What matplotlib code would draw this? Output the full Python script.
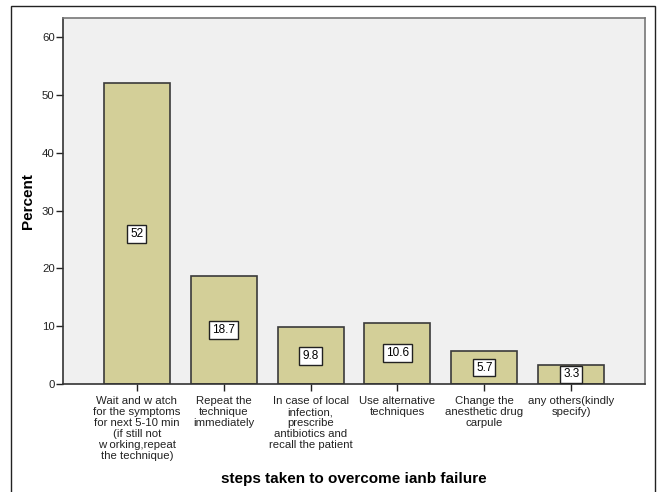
import matplotlib.pyplot as plt
from matplotlib.patches import Rectangle

plt.rcParams['font.family'] = ['Liberation Sans', 'DejaVu Sans']

steps = [
    "Wait and w atch\nfor the symptoms\nfor next 5-10 min\n(if still not\nw orking,repeat\nthe technique)",
    "Repeat the\ntechnique\nimmediately",
    "In case of local\ninfection,\nprescribe\nantibiotics and\nrecall the patient",
    "Use alternative\ntechniques",
    "Change the\nanesthetic drug\ncarpule",
    "any others(kindly\nspecify)",
]
percent = [52, 18.7, 9.8, 10.6, 5.7, 3.3]
value_labels = ["52", "18.7", "9.8", "10.6", "5.7", "3.3"]
y_ticks = [0, 10, 20, 30, 40, 50, 60]

fig = plt.figure(figsize=(6.57, 4.92), dpi=100)
fig.patch.set_facecolor('white')

# outer frame around the whole chart
fig.patches.append(Rectangle((11 / 657, -0.01), (655 - 11) / 657, 1 - 6 / 492 + 0.01,
                             transform=fig.transFigure, fill=False,
                             edgecolor='#222222', linewidth=1.0))

ax = fig.add_axes([63 / 657, 1 - 384 / 492, (645 - 63) / 657, (384 - 18) / 492])
ax.set_facecolor('#f0f0f0')

x = list(range(len(steps)))
ax.bar(x, percent, width=0.76, color='#d3cf98', edgecolor='#3a3a3a', linewidth=1.2)

for xi, v, lab in zip(x, percent, value_labels):
    ax.text(xi, v / 2, lab, ha='center', va='center', fontsize=8.5,
            bbox=dict(boxstyle='square,pad=0.25', facecolor='white',
                      edgecolor='#222222', linewidth=1.0))

ax.set_xlim(-0.85, 5.85)
ax.set_ylim(0, 63.3)
ax.set_yticks(y_ticks)
ax.set_xticks(x)
ax.set_xticklabels(steps, fontsize=8.2, linespacing=1.12)
ax.tick_params(axis='y', labelsize=8.2, length=5, width=1, pad=1, colors='#222222')
ax.tick_params(axis='x', length=5, width=1, pad=4, colors='#222222')

for side in ['left', 'bottom']:
    ax.spines[side].set_color('#333333')
    ax.spines[side].set_linewidth(1.2)
for side in ['top', 'right']:
    ax.spines[side].set_color('#777777')
    ax.spines[side].set_linewidth(1.2)

ax.set_ylabel('Percent', fontsize=11, fontweight='bold', labelpad=5)
ax.set_xlabel('steps taken to overcome ianb failure', fontsize=11,
              fontweight='bold', labelpad=8)

fig.savefig('out.png', dpi=100)
